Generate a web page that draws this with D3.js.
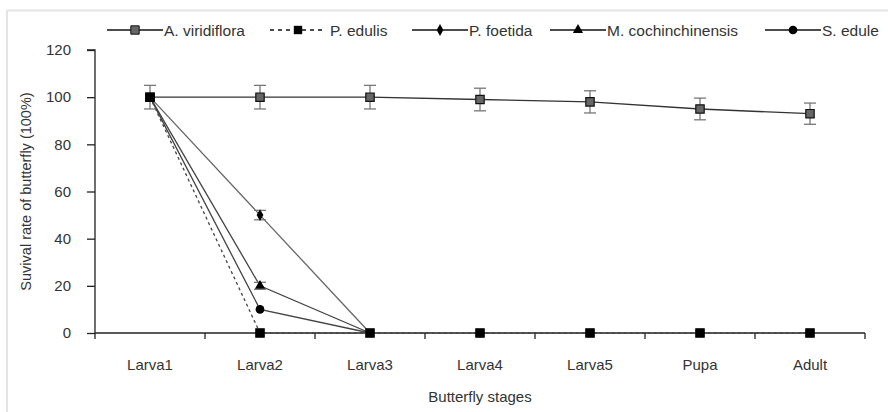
<!DOCTYPE html>
<html><head><meta charset="utf-8">
<script src="https://cdn.jsdelivr.net/npm/d3@7"></script>
<style>body{margin:0;background:#fff}svg{display:block;font-family:"Liberation Sans",Arial,sans-serif}</style>
</head><body><svg id="c" width="888" height="412"></svg>
<script>
const stages = ["Larva1","Larva2","Larva3","Larva4","Larva5","Pupa","Adult"];
const yTicks = [0,20,40,60,80,100,120];
const viridiflora = [100,100,100,99,98,95,93];
const viridifloraErr = [5,5,5,4.8,4.7,4.6,4.5];
const edulis = [100,0,0,0,0,0,0];
const foetida = [100,50,0];
const foetidaErr = [0,2,0];
const cochin = [100,20,0];
const cochinErr = [0,1.5,0];
const edule = [100,10,0];
const seriesNames = ["A. viridiflora","P. edulis","P. foetida","M. cochinchinensis","S. edule"];

const svg = d3.select("#c");
svg.append("line").attr("x1",7).attr("x2",888).attr("y1",10.5).attr("y2",10.5).attr("stroke","#e4e4e4").attr("stroke-width",2);
svg.append("line").attr("x1",7).attr("x2",7).attr("y1",10).attr("y2",412).attr("stroke","#e4e4e4").attr("stroke-width",2);

const x = d3.scaleBand().domain(stages).range([95,865]);
const y = d3.scaleLinear().domain([0,120]).range([333,50]);
const cx = s => x(s)+x.bandwidth()/2;

const g = svg.append("g");
const ya = g.append("g").attr("transform","translate(95,0)")
  .call(d3.axisLeft(y).tickValues(yTicks).tickSize(8).tickPadding(16));
ya.select(".domain").attr("d","M-8,"+y(120)+"H0V"+y(0)).attr("stroke","#222").attr("stroke-width",1.3);
ya.selectAll(".tick line").attr("stroke","#222").attr("stroke-width",1.3);
ya.selectAll("text").attr("font-size",15).attr("fill","#333").style("font-family","Liberation Sans, Arial");

const xa = g.append("g").attr("transform","translate(0,333)")
  .call(d3.axisBottom(x).tickSize(0).tickPadding(26));
xa.select(".domain").attr("d","M95,0H865").attr("stroke","#222").attr("stroke-width",1.3);
xa.selectAll("text").attr("font-size",15).attr("fill","#333").style("font-family","Liberation Sans, Arial");
const bounds = stages.map(s=>x(s)).concat([x.range()[1]]);
g.selectAll(".bt").data(bounds).enter().append("line")
  .attr("x1",d=>d).attr("x2",d=>d).attr("y1",333).attr("y2",339).attr("stroke","#222").attr("stroke-width",1.3);

svg.append("text").attr("x",(95+865)/2).attr("y",402).attr("text-anchor","middle")
  .attr("font-size",15).attr("fill","#333").text("Butterfly  stages");
svg.append("text").attr("transform","translate(26,"+((50+333)/2)+") rotate(-90)")
  .attr("text-anchor","middle").attr("dominant-baseline","central")
  .attr("font-size",14.5).attr("fill","#333").text("Suvival rate of butterfly (100%)");

const line = d3.line().x((d,i)=>cx(stages[i])).y(d=>y(d));

function errBars(vals, errs){
  vals.forEach((v,i)=>{
    const e = errs[i]; if(!e) return;
    const xx = cx(stages[i]);
    g.append("line").attr("x1",xx).attr("x2",xx).attr("y1",y(v+e)).attr("y2",y(v-e)).attr("stroke","#777").attr("stroke-width",1.3);
    [v+e,v-e].forEach(t=>g.append("line").attr("x1",xx-6).attr("x2",xx+6).attr("y1",y(t)).attr("y2",y(t)).attr("stroke","#777").attr("stroke-width",1.3));
  });
}

const sym = {
  sqG: d3.symbol().type(d3.symbolSquare).size(70),
  sqB: d3.symbol().type(d3.symbolSquare).size(70),
  dia: d3.symbol().type(d3.symbolDiamond).size(40),
  tri: d3.symbol().type(d3.symbolTriangle).size(45),
  cir: d3.symbol().type(d3.symbolCircle).size(60)
};

g.append("path").datum(foetida).attr("d",line).attr("fill","none").attr("stroke","#666").attr("stroke-width",1.3);
g.append("path").datum(cochin).attr("d",line).attr("fill","none").attr("stroke","#444").attr("stroke-width",1.3);
g.append("path").datum(edule).attr("d",line).attr("fill","none").attr("stroke","#444").attr("stroke-width",1.3);
g.append("path").datum(edulis).attr("d",line).attr("fill","none").attr("stroke","#444").attr("stroke-width",1.3).attr("stroke-dasharray","3,3");
g.append("path").datum(viridiflora).attr("d",line).attr("fill","none").attr("stroke","#333").attr("stroke-width",1.4);

errBars(viridiflora, viridifloraErr);
errBars(foetida, foetidaErr);
errBars(cochin, cochinErr);

function marks(vals, s, fill, stroke){
  vals.forEach((v,i)=>{
    g.append("path").attr("d",s()).attr("transform",`translate(${cx(stages[i])},${y(v)})`)
      .attr("fill",fill).attr("stroke",stroke).attr("stroke-width",1.2);
  });
}
marks(viridiflora, sym.sqG, "#666", "#111");
[[foetida,sym.dia],[cochin,sym.tri],[edule,sym.cir]].forEach(([vals,s])=>{
  g.append("path").attr("d",s()).attr("transform",`translate(${cx(stages[1])},${y(vals[1])})`).attr("fill","#000");
});
marks(edulis, sym.sqB, "#000", "#000");

const ly = 30;
const lsyms = [sym.sqG, sym.sqB, sym.dia, sym.tri, sym.cir];
const lfill = ["#666","#000","#000","#000","#000"];
const lx = [[107,163],[270,326],[412,468],[550,606],[765,821]];
seriesNames.forEach((n,i)=>{
  const [a,b] = lx[i];
  svg.append("line").attr("x1",a).attr("x2",b).attr("y1",ly).attr("y2",ly).attr("stroke","#111").attr("stroke-width",1.3)
    .attr("stroke-dasharray", i===1?"4,4":null);
  svg.append("path").attr("d",lsyms[i]()).attr("transform",`translate(${(a+b)/2},${ly})`)
    .attr("fill",lfill[i]).attr("stroke",i===0?"#111":"none");
  svg.append("text").attr("x",b+(i===1?4:1)).attr("y",ly).attr("dominant-baseline","central")
    .attr("font-size",15.5).attr("fill","#333").text(n);
});
</script></body></html>
